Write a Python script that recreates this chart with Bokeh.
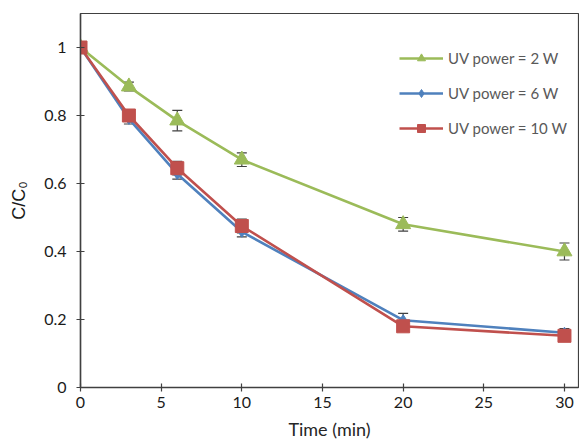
from bokeh.plotting import figure
from bokeh.models import ColumnDataSource, Whisker, Legend, LegendItem, FixedTicker, Range1d
from bokeh.embed import file_html
from bokeh.resources import INLINE

time_min = [0, 3, 6, 10, 20, 30]
c_2w = [1.0, 0.885, 0.785, 0.67, 0.48, 0.40]
err_2w = [0.0, 0.013, 0.03, 0.02, 0.02, 0.025]
c_6w = [1.0, 0.79, 0.628, 0.458, 0.198, 0.161]
err_6w = [0.0, 0.015, 0.015, 0.015, 0.02, 0.012]
c_10w = [1.0, 0.80, 0.645, 0.475, 0.18, 0.152]
err_10w = [0.0, 0.012, 0.02, 0.02, 0.015, 0.01]
series_names = ["UV power = 2 W", "UV power = 6 W", "UV power = 10 W"]
x_ticks = [0, 5, 10, 15, 20, 25, 30]
y_ticks = [0, 0.2, 0.4, 0.6, 0.8, 1.0]

FONT = "Lato"
AXC = "#404040"

p = figure(width=579, height=441, output_backend="svg", toolbar_location=None,
           x_range=Range1d(0, 30.87), y_range=Range1d(0, 1.1),
           min_border_left=80, min_border_right=1, min_border_top=13, min_border_bottom=54,
           frame_width=498, frame_height=374)
p.xgrid.visible = False
p.ygrid.visible = False
p.outline_line_color = AXC
p.outline_line_width = 1.2
p.background_fill_color = "white"
p.border_fill_color = "white"

for ax in (p.xaxis[0], p.yaxis[0]):
    ax.axis_line_color = AXC
    ax.axis_line_width = 1.5
    ax.major_tick_line_color = AXC
    ax.major_tick_line_width = 1.2
    ax.major_tick_in = 4
    ax.major_tick_out = 4
    ax.minor_tick_line_color = None
    ax.major_label_text_font = FONT
    ax.major_label_text_font_size = "16px"
    ax.major_label_text_color = "#1a1a1a"

p.xaxis.ticker = FixedTicker(ticks=x_ticks)
p.yaxis.ticker = FixedTicker(ticks=y_ticks)
p.yaxis.major_label_overrides = {0: "0", 1: "1", 1.0: "1"}
p.yaxis.major_label_standoff = 10
p.xaxis.major_label_standoff = 5

p.xaxis.axis_label = "Time (min)"
p.xaxis.axis_label_text_font = FONT
p.xaxis.axis_label_text_font_style = "normal"
p.xaxis.axis_label_text_font_size = "18px"
p.xaxis.axis_label_text_color = "#262626"
p.xaxis.axis_label_standoff = 7

p.yaxis.axis_label = "C/C\u2080"
p.yaxis.axis_label_text_font = "Liberation Sans"
p.yaxis.axis_label_text_font_style = "normal"
p.yaxis.axis_label_text_font_size = "18px"
p.yaxis.axis_label_text_color = "#1a1a1a"
p.yaxis.axis_label_standoff = 12

colors = ["#9BBB59", "#4F81BD", "#C0504D"]
data = [(c_2w, err_2w), (c_6w, err_6w), (c_10w, err_10w)]
markers = ["triangle", "diamond", "square"]
sizes = [15, 11, 13]

items = []
for (vals, errs), col, mk, sz, name in zip(data, colors, markers, sizes, series_names):
    src = ColumnDataSource(dict(x=time_min, y=vals,
                                lo=[v - e for v, e in zip(vals, errs)],
                                hi=[v + e for v, e in zip(vals, errs)]))
    w = Whisker(source=src, base="x", lower="lo", upper="hi",
                line_color=AXC, line_width=1.2, level="underlay")
    w.upper_head.size = 10
    w.lower_head.size = 10
    w.upper_head.line_color = AXC
    w.lower_head.line_color = AXC
    w.upper_head.line_width = 1.2
    w.lower_head.line_width = 1.2
    p.add_layout(w)
    ln = p.line("x", "y", source=src, line_color=col, line_width=2.6)
    sc = p.scatter("x", "y", source=src, marker=mk, size=sz, fill_color=col, line_color=col)
    items.append(LegendItem(label=name, renderers=[ln, sc]))

leg = Legend(items=items, location=(319, 249), border_line_color=None,
             background_fill_color=None, background_fill_alpha=0,
             label_text_font=FONT, label_text_font_size="15px", label_text_color="#595959",
             glyph_width=44, glyph_height=20, label_height=20, spacing=15,
             padding=0, margin=0, label_standoff=5)
p.add_layout(leg)

open("out.html", "w").write(file_html(p, INLINE))
